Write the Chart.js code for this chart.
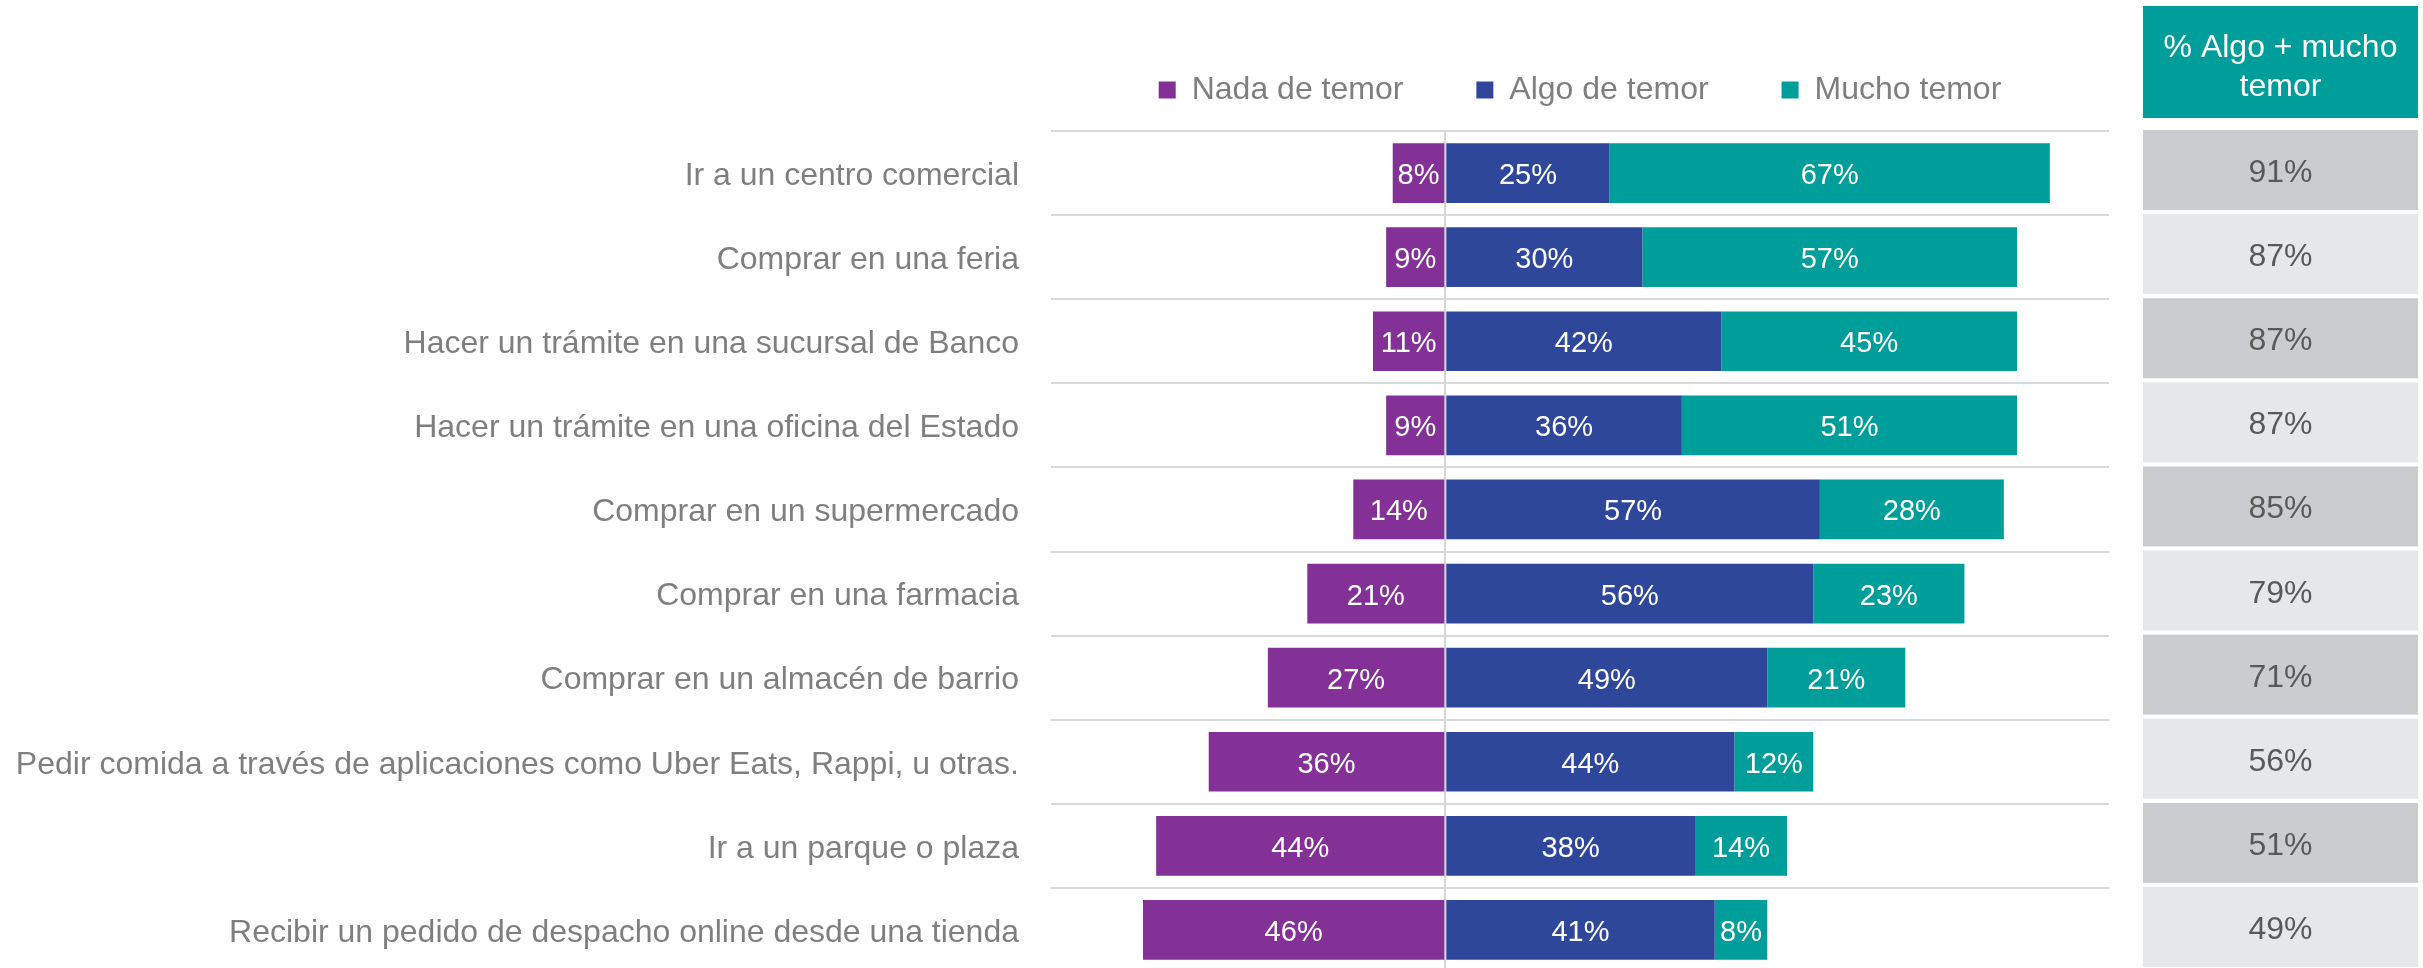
<!DOCTYPE html>
<html>
<head>
<meta charset="utf-8">
<script src="https://cdn.jsdelivr.net/npm/chart.js@4"></script>
<style>
  html, body { margin: 0; padding: 0; background: #fff; overflow: hidden; }
  #wrap { width: 2423px; height: 968px; overflow: hidden; }
</style>
</head>
<body>
<div id="wrap"><canvas id="temorChart" width="2423" height="972"></canvas></div>
<script>
const categories = [
    'Ir a un centro comercial',
    'Comprar en una feria',
    'Hacer un trámite en una sucursal de Banco',
    'Hacer un trámite en una oficina del Estado',
    'Comprar en un supermercado',
    'Comprar en una farmacia',
    'Comprar en un almacén de barrio',
    'Pedir comida a través de aplicaciones como Uber Eats, Rappi, u otras.',
    'Ir a un parque o plaza',
    'Recibir un pedido de despacho online desde una tienda'
];
// nada de temor goes to the left of zero
const nadaTemor = [-8, -9, -11, -9, -14, -21, -27, -36, -44, -46];
const algoTemor = [25, 30, 42, 36, 57, 56, 49, 44, 38, 41];
const muchoTemor = [67, 57, 45, 51, 28, 23, 21, 12, 14, 8];
const algoMasMucho = [91, 87, 87, 87, 85, 79, 71, 56, 51, 49];
const tableTitle = ['% Algo + mucho', 'temor'];

const FONT = '"Liberation Sans", Arial, sans-serif';
Chart.defaults.font.family = FONT;

// white % labels in the middle of each segment
const barLabels = {
    id: 'barLabels',
    afterDatasetsDraw(chart) {
        const ctx = chart.ctx;
        ctx.save();
        ctx.fillStyle = '#ffffff';
        ctx.font = '29px ' + FONT;
        ctx.textAlign = 'center';
        ctx.textBaseline = 'middle';
        chart.data.datasets.forEach((ds, i) => {
            chart.getDatasetMeta(i).data.forEach((bar, j) => {
                ctx.fillText(Math.abs(ds.data[j]) + '%', (bar.x + bar.base) / 2, bar.y + 3);
            });
        });
        ctx.restore();
    }
};

// the "% Algo + mucho temor" column on the right
const sideTable = {
    id: 'sideTable',
    afterDraw(chart) {
        const ctx = chart.ctx;
        const yScale = chart.scales.y;
        const left = chart.chartArea.right + 34;
        const w = 275;
        ctx.save();
        ctx.fillStyle = '#009E9A';
        ctx.fillRect(left, 6, w, 112);
        ctx.fillStyle = '#ffffff';
        ctx.font = '32px ' + FONT;
        ctx.textAlign = 'center';
        ctx.textBaseline = 'alphabetic';
        ctx.fillText(tableTitle[0], left + w / 2, 57);
        ctx.fillText(tableTitle[1], left + w / 2, 96);
        algoMasMucho.forEach((v, i) => {
            const yc = yScale.getPixelForValue(i);
            ctx.fillStyle = i % 2 === 0 ? '#CBCCCF' : '#E6E7E9';
            ctx.fillRect(left, yc - 43, w, 80);
            ctx.fillStyle = '#595959';
            ctx.fillText(v + '%', left + w / 2, yc + 9);
        });
        ctx.restore();
    }
};

const ctx = document.getElementById('temorChart').getContext('2d');
const temorChart = new Chart(ctx, {
    type: 'bar',
    data: {
        labels: categories,
        datasets: [
            { label: 'Nada de temor', data: nadaTemor, backgroundColor: '#833197' },
            { label: 'Algo de temor', data: algoTemor, backgroundColor: '#2F479A' },
            { label: 'Mucho temor', data: muchoTemor, backgroundColor: '#009E9A' }
        ]
    },
    options: {
        indexAxis: 'y',
        responsive: false,
        animation: false,
        devicePixelRatio: 1,
        barPercentage: 0.71,
        categoryPercentage: 1.0,
        layout: { padding: { top: 1, right: 314, left: 0, bottom: 0 } },
        plugins: {
            tooltip: { enabled: false },
            legend: {
                position: 'top',
                fullSize: false,
                labels: {
                    boxWidth: 17,
                    boxHeight: 17,
                    padding: 73,
                    color: '#7f7f7f',
                    font: { size: 32 }
                }
            }
        },
        scales: {
            x: {
                position: 'top',
                stacked: true,
                min: -60,
                max: 101,
                ticks: { display: false, stepSize: 10 },
                border: { display: false },
                grid: {
                    drawTicks: true,
                    tickLength: 15,
                    tickColor: 'rgba(0,0,0,0)',
                    lineWidth: 2,
                    color: c => (c.tick && c.tick.value === 0) ? '#d6d6d6' : 'rgba(0,0,0,0)'
                }
            },
            y: {
                stacked: true,
                border: { display: false },
                grid: { color: '#d9d9d9', lineWidth: 2, drawTicks: false, offset: true },
                ticks: { color: '#7f7f7f', font: { size: 32 }, padding: 32, labelOffset: 3 },
                afterFit(scale) {
                    scale.width = 1051;
                    scale.paddingTop = 0;
                    scale.paddingBottom = 0;
                }
            }
        }
    },
    plugins: [barLabels, sideTable]
});
</script>
</body>
</html>
